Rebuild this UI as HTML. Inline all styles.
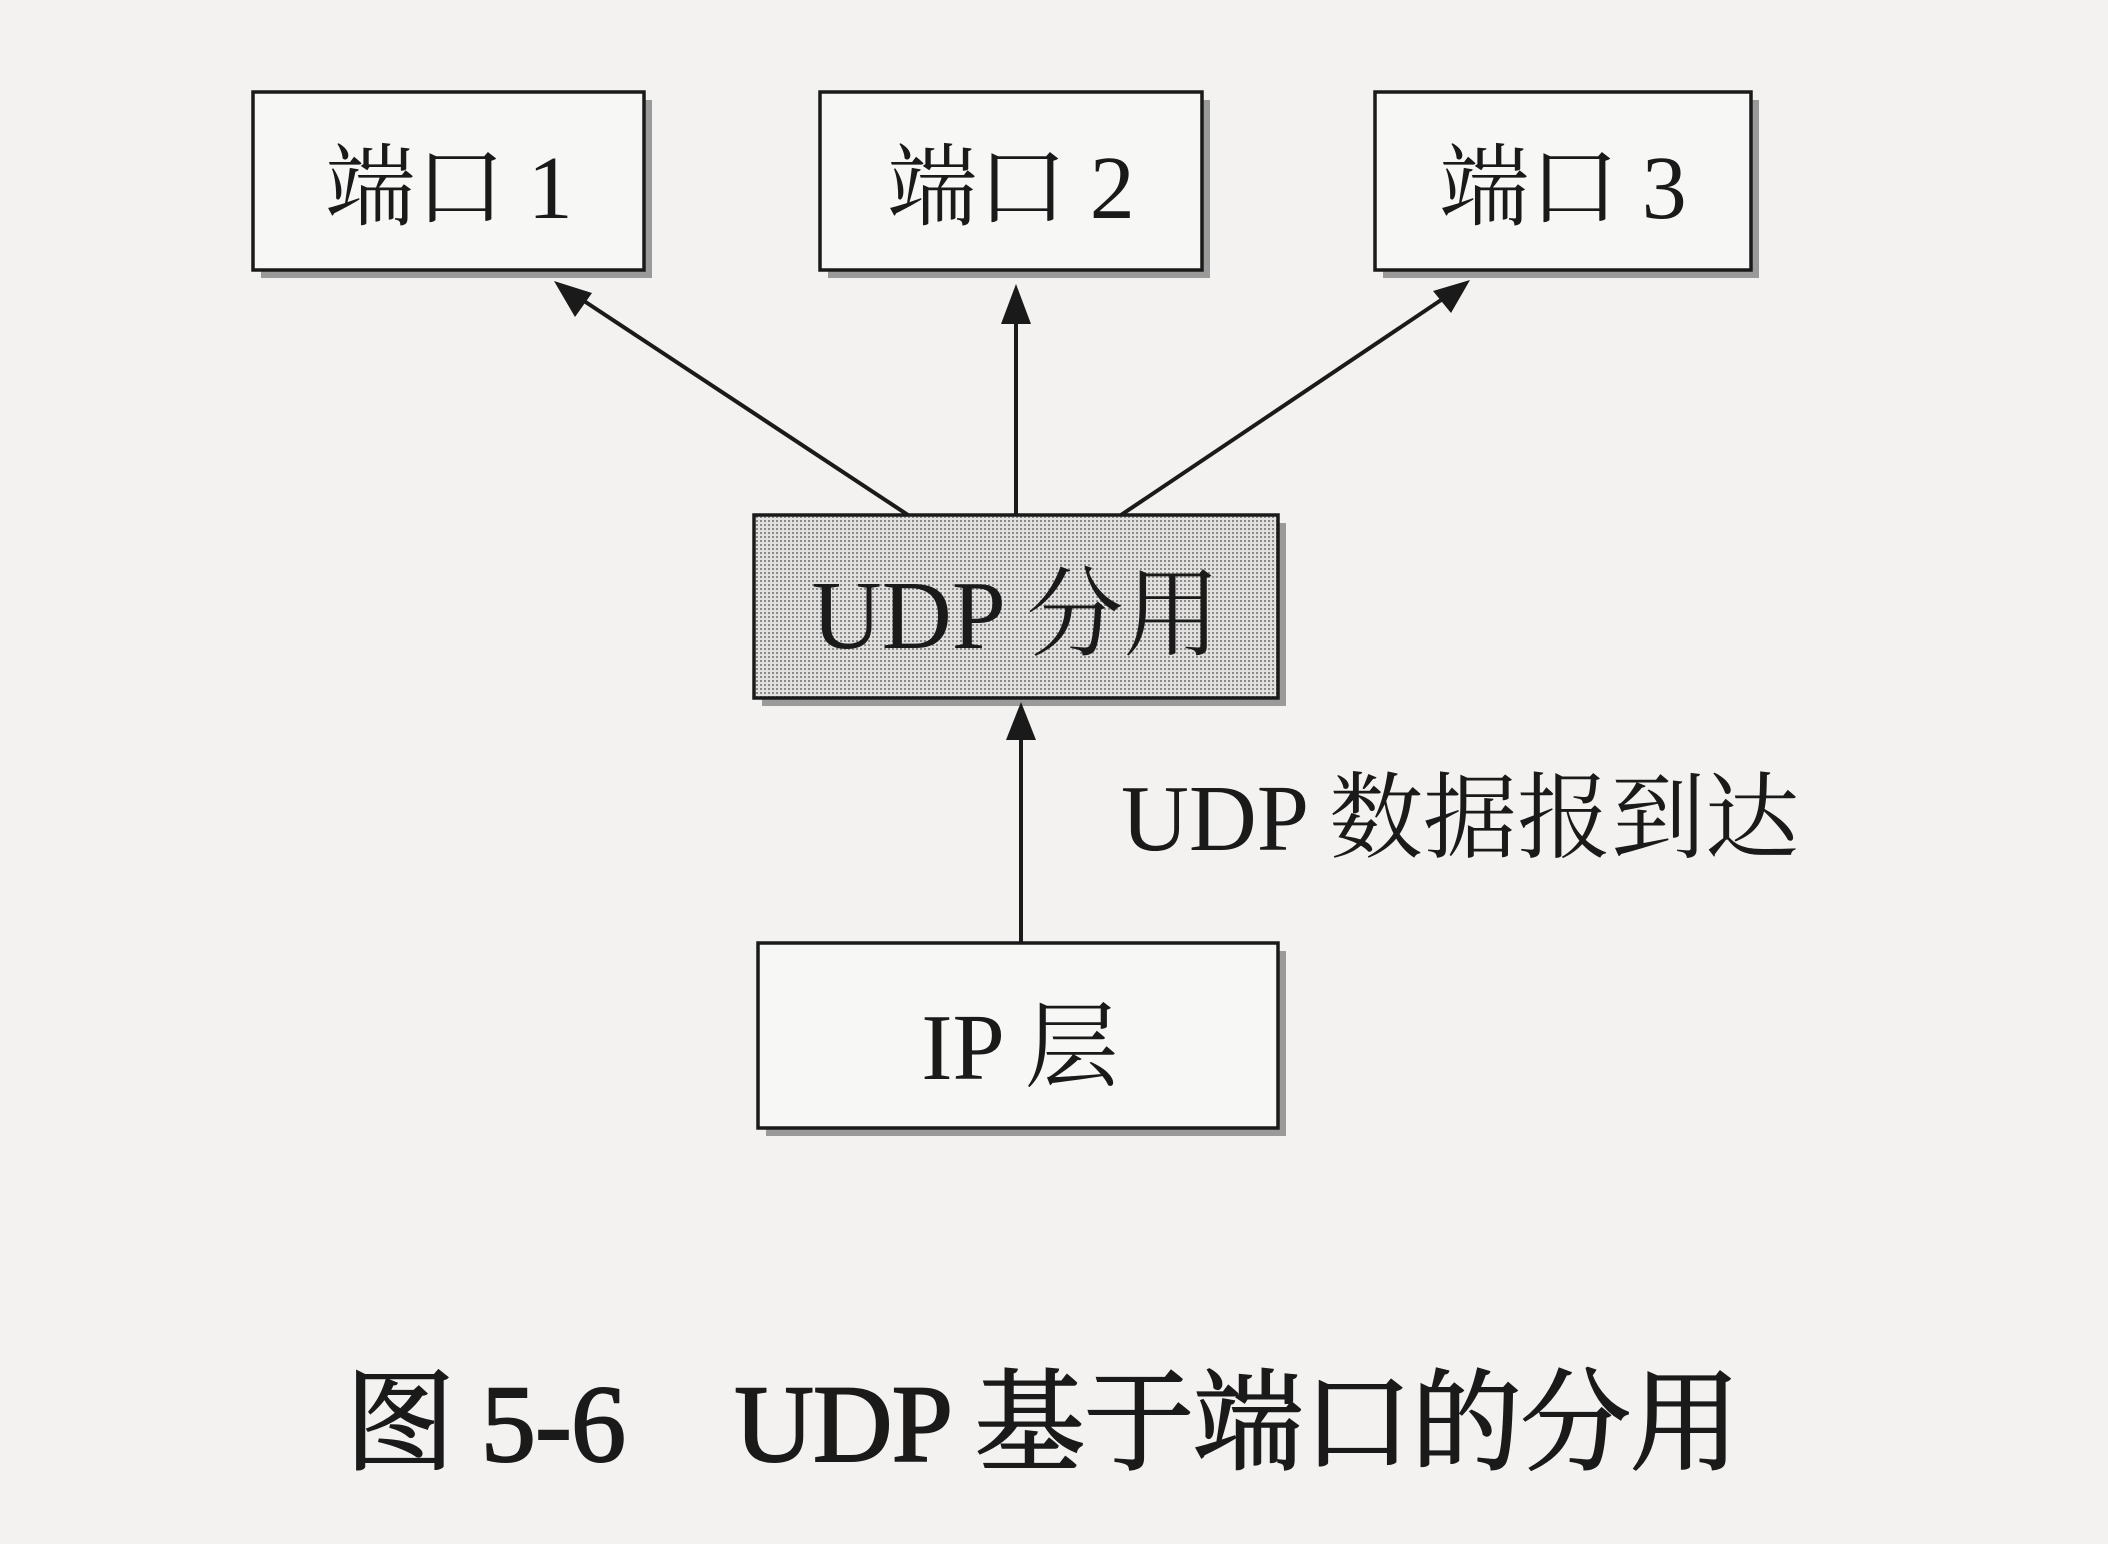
<!DOCTYPE html>
<html><head><meta charset="utf-8"><style>
html,body{margin:0;padding:0;background:#f3f2f0;}
svg{display:block}
text{font-family:"Liberation Serif","Noto Serif CJK SC","Noto Sans CJK SC",serif;fill:#1a1a1a}
</style></head><body>
<svg width="2108" height="1544" viewBox="0 0 2108 1544" xmlns="http://www.w3.org/2000/svg">
<defs>
<pattern id="dots" width="4" height="4" patternUnits="userSpaceOnUse">
<rect width="4" height="4" fill="#e2e1df"/><rect width="2" height="2" fill="#8a8a8a"/>
</pattern>
</defs>
<g fill="#9a9a9a">
<rect x="261" y="100" width="391" height="178"/>
<rect x="828" y="100" width="382" height="178"/>
<rect x="1383" y="100" width="376" height="178"/>
<rect x="762" y="523" width="524" height="183"/>
<rect x="766" y="951" width="520" height="185"/>
</g>
<g stroke="#1a1a1a" stroke-width="3.5">
<rect x="253" y="92" width="391" height="178" fill="#f7f7f5"/>
<rect x="820" y="92" width="382" height="178" fill="#f7f7f5"/>
<rect x="1375" y="92" width="376" height="178" fill="#f7f7f5"/>
<rect x="754" y="515" width="524" height="183" fill="url(#dots)"/>
<rect x="758" y="943" width="520" height="185" fill="#f7f7f5"/>
</g>
<g stroke="#1a1a1a" stroke-width="4">
<line x1="908" y1="515" x2="575" y2="295"/>
<line x1="1016" y1="515" x2="1016" y2="310"/>
<line x1="1121" y1="515" x2="1450" y2="294"/>
<line x1="1021" y1="943" x2="1021" y2="728"/>
</g>
<g fill="#1a1a1a">
<polygon points="554,281 592,293 575,317"/>
<polygon points="1016,284 1001,324 1031,324"/>
<polygon points="1470,280 1451,313 1433,291"/>
<polygon points="1021,702 1006,740 1036,740"/>
</g>
<text x="449" y="218" font-size="90" text-anchor="middle">端口 1</text>
<text x="1011" y="218" font-size="90" text-anchor="middle">端口 2</text>
<text x="1563" y="218" font-size="90" text-anchor="middle">端口 3</text>
<text x="1016" y="648" font-size="97" text-anchor="middle">UDP 分用</text>
<text x="1121" y="850" font-size="94">UDP 数据报到达</text>
<text x="1020" y="1079" font-size="94" text-anchor="middle">IP 层</text>
<text x="345" y="1461" font-size="110" stroke="#1a1a1a" stroke-width="2" textLength="1395">图 5-6　UDP 基于端口的分用</text>
</svg>
</body></html>
